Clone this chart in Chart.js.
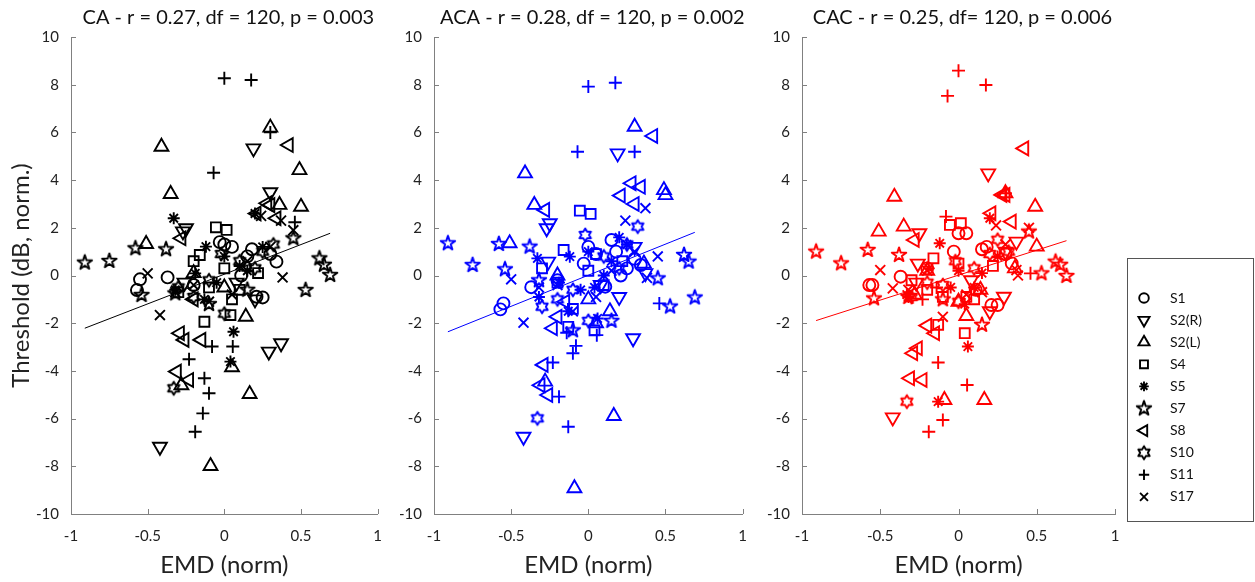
<!DOCTYPE html>
<html>
<head>
<meta charset="utf-8">
<script src="https://cdn.jsdelivr.net/npm/chart.js@4.4.1/dist/chart.umd.min.js"></script>
<style>
  body { margin: 0; background: #fff; }
  .panel { position: absolute; top: 0; }
</style>
</head>
<body>
<canvas id="ca" class="panel" width="395" height="582" style="left:0px"></canvas>
<canvas id="aca" class="panel" width="360" height="582" style="left:400px"></canvas>
<canvas id="cac" class="panel" width="490" height="582" style="left:765px"></canvas>
<script>
// EMD per subject is shared by the three conditions; thresholds differ
const subjects = ["S1", "S2(R)", "S2(L)", "S4", "S5", "S7", "S8", "S10", "S11", "S17"];

const emdS1 = [-0.55, -0.57, -0.37, 0.34, 0.21, 0.25, 0.0, 0.05, -0.03, 0.15, 0.11, -0.2, 0.18, 0.3];
const caS1 = [-0.16, -0.61, -0.08, 0.58, -0.89, -0.92, 1.3, 1.2, 1.4, 0.8, 0.0, -0.4, 1.1, 0.9];
const acaS1 = [-1.17, -1.42, -0.49, 0.44, 0.0, 0.3, 1.2, 0.9, 0.5, 1.49, -0.47, -0.2, 1.0, 0.7];
const cacS1 = [-0.4, -0.4, -0.05, 0.51, -1.24, -1.24, 1.77, 1.77, 1.0, 1.1, -0.6, 0.3, 1.2, 0.9];

const emdS2R = [0.19, 0.30, -0.25, -0.27, -0.26, 0.29, 0.37, -0.42, 0.08, 0.2];
const caS2R = [5.33, 3.49, 1.98, 1.85, -0.3, -3.19, -2.84, -7.18, -0.3, -1.0];
const acaS2R = [5.12, 1.2, 2.19, 1.98, 0.58, -2.63, 0.1, -6.76, -0.4, -0.9];
const cacS2R = [4.28, 1.0, 1.77, -0.3, 0.5, -0.89, 1.42, -5.95, -0.2, -1.5];

const emdS2L = [0.30, -0.41, 0.49, -0.35, 0.50, 0.36, -0.51, 0.14, 0.05, -0.28, 0.165, -0.09, -0.2, 0.0];
const caS2L = [6.2, 5.4, 4.42, 3.42, 2.88, 2.96, 1.32, -1.73, -3.85, -4.6, -4.97, -7.99, 0.1, -0.5];
const acaS2L = [6.24, 4.28, 3.58, 2.96, 3.37, 0.5, 1.35, -1.5, -2.0, -4.45, -5.89, -8.92, 0.0, -1.0];
const cacS2L = [3.45, 3.3, 2.88, 2.05, 1.21, 0.3, 1.84, -0.6, -1.7, -0.8, -5.22, -5.22, 0.2, -1.1];

const emdS4 = [-0.055, 0.015, -0.16, -0.13, 0.04, 0.0, 0.1, -0.1, 0.22, -0.3, 0.05, -0.2];
const caS4 = [2.02, 1.91, 0.86, -1.94, -1.66, 0.3, -0.6, -0.5, 0.1, -0.7, -1.0, 0.6];
const acaS4 = [2.72, 2.58, 1.07, -2.15, -2.3, 0.2, -0.4, -1.4, 0.6, 0.3, 0.9, -0.3];
const cacS4 = [2.12, 2.19, 0.72, -2.07, -2.42, 0.5, -1.0, -0.9, 0.4, -0.2, -0.9, -0.6];

const emdS5 = [-0.33, -0.19, -0.12, 0.06, 0.04, 0.0, 0.1, 0.25, 0.2, -0.32, -0.13, 0.15, -0.05];
const caS5 = [2.4, 0.09, 1.21, -2.36, -3.61, 0.8, 0.4, 1.2, 2.6, -0.6, -1.0, 0.2, -0.3];
const acaS5 = [0.72, -0.3, 0.79, -1.8, -0.5, 1.0, 0.0, 1.3, 1.6, -0.9, -1.5, 0.6, -0.6];
const cacS5 = [-0.8, 0.3, 1.35, -2.98, -1.2, 0.2, -0.5, 0.8, 2.4, -0.9, -5.29, 0.1, -0.5];

const emdS7 = [-0.91, -0.75, -0.58, -0.38, -0.54, -0.32, 0.45, 0.53, 0.62, 0.65, 0.69, -0.10, 0.15];
const caS7 = [0.54, 0.61, 1.14, 1.1, -0.82, -0.75, 1.56, -0.61, 0.72, 0.45, 0.02, -1.2, -0.6];
const acaS7 = [1.35, 0.44, 1.32, 1.21, 0.26, -0.2, -0.12, -1.3, 0.86, 0.58, -0.92, -2.3, -1.9];
const cacS7 = [1.0, 0.51, 1.07, 0.86, -0.96, -0.9, 1.84, 0.09, 0.58, 0.45, -0.02, -1.0, -2.07];

const emdS8 = [0.42, 0.28, 0.21, 0.30, 0.34, -0.28, -0.29, -0.26, -0.15, -0.31, -0.23, -0.2];
const caS8 = [5.47, 3.03, 2.6, 2.95, 2.4, 1.56, -2.42, -2.7, -2.7, -4.03, -4.38, -1.0];
const acaS8 = [5.85, 3.87, 3.35, 3.0, 3.72, 2.75, -3.75, -5.01, -1.1, -4.6, -2.21, -1.73];
const cacS8 = [5.33, 3.38, 2.61, 3.38, 2.26, 1.49, -3.26, -3.05, -2.42, -4.31, -4.38, -2.1];

const emdS10 = [-0.33, -0.02, 0.32, -0.3, 0.1, -0.1, 0.25, 0.0, 0.2, -0.2];
const caS10 = [-4.73, 0.9, 1.3, -0.5, 0.6, -0.2, 1.0, -1.6, 0.3, -0.9];
const acaS10 = [-5.99, 1.70, 2.05, -1.31, 0.8, -0.6, 1.3, -1.9, 0.3, -1.0];
const cacS10 = [-5.29, 0.6, 1.0, -0.9, 0.3, -0.4, 1.5, -1.1, 0.9, -0.3];

const emdS11 = [0.0, 0.175, -0.07, 0.30, 0.46, 0.055, -0.08, -0.23, -0.13, -0.10, -0.14, -0.19];
const caS11 = [8.27, 8.2, 4.31, 6.0, 2.23, -2.98, -2.98, -3.51, -4.31, -4.94, -5.78, -6.55];
const acaS11 = [7.92, 8.08, 5.19, 5.19, -1.17, -2.5, -2.95, -3.65, -6.34, -3.26, -2.4, -5.08];
const cacS11 = [8.59, 7.99, 7.53, 3.45, 0.09, -4.59, 2.47, -1.0, -3.65, -6.06, -0.5, -6.55];

const emdS17 = [-0.5, -0.42, -0.32, 0.37, 0.38, 0.24, 0.05, -0.1, 0.3, 0.45, 0.15, -0.2];
const caS17 = [0.09, -1.66, -0.7, 2.3, -0.08, 2.5, -0.8, -1.1, 1.2, 1.9, 0.6, -0.4];
const acaS17 = [-0.16, -1.98, -0.5, 2.82, -0.1, 2.3, -0.9, -1.5, 1.0, 0.8, 0.2, -0.4];
const cacS17 = [0.23, -0.54, -0.6, 0.23, 0.0, 2.1, -0.8, -1.73, 1.3, 2.0, -0.7, 0.2];

// regression line end points (EMD range of the data)
const fitEmd = [-0.91, 0.69];
const fitCA = [-2.21, 1.77];
const fitACA = [-2.36, 1.81];
const fitCAC = [-1.89, 1.46];

const titles = [
  "CA - r = 0.27, df = 120, p = 0.003",
  "ACA - r = 0.28, df = 120, p = 0.002",
  "CAC - r = 0.25, df= 120, p = 0.006",
];
const xTicks = [-1, -0.5, 0, 0.5, 1];

const emd = [emdS1, emdS2R, emdS2L, emdS4, emdS5, emdS7, emdS8, emdS10, emdS11, emdS17];
const thresholds = {
  ca: [caS1, caS2R, caS2L, caS4, caS5, caS7, caS8, caS10, caS11, caS17],
  aca: [acaS1, acaS2R, acaS2L, acaS4, acaS5, acaS7, acaS8, acaS10, acaS11, acaS17],
  cac: [cacS1, cacS2R, cacS2L, cacS4, cacS5, cacS7, cacS8, cacS10, cacS11, cacS17],
};

const FONT = "Lato, 'Open Sans', sans-serif";
const LW = 1.9;

// outlined pentagram / hexagram, drawn once per colour
function starMarker(points, inner, R, color) {
  const size = 20;
  const c = document.createElement("canvas");
  c.width = size;
  c.height = size;
  const g = c.getContext("2d");
  g.strokeStyle = color;
  g.lineWidth = LW;
  g.lineJoin = "round";
  g.beginPath();
  for (let i = 0; i < points * 2; i++) {
    const r = i % 2 ? R * inner : R;
    const a = -Math.PI / 2 + (i * Math.PI) / points;
    g.lineTo(size / 2 + r * Math.cos(a), size / 2 + r * Math.sin(a));
  }
  g.closePath();
  g.stroke();
  return c;
}

function markers(color) {
  return [
    { style: "circle", radius: 6, rotation: 0 },
    { style: "triangle", radius: 8, rotation: 180 },
    { style: "triangle", radius: 8, rotation: 0 },
    { style: "rect", radius: 7, rotation: 0 },
    { style: "star", radius: 6, rotation: 0 },
    { style: starMarker(5, 0.382, 7.6, color), radius: 8, rotation: 0 },
    { style: "triangle", radius: 8, rotation: 270 },
    { style: starMarker(6, 0.577, 6.6, color), radius: 8, rotation: 0 },
    { style: "cross", radius: 6.5, rotation: 0 },
    { style: "crossRot", radius: 7, rotation: 0 },
  ];
}

// panel title centred over the plot area
const panelTitle = {
  id: "panelTitle",
  afterDraw(chart, args, opts) {
    const { ctx, chartArea: a } = chart;
    ctx.save();
    ctx.font = "20px " + FONT;
    ctx.fillStyle = "#111";
    ctx.textAlign = "center";
    ctx.textBaseline = "middle";
    ctx.fillText(opts.text, (a.left + a.right) / 2 + 4, 18);
    ctx.restore();
  },
};

// ticks point into the plot, MATLAB style
const inwardTicks = {
  id: "inwardTicks",
  afterDraw(chart) {
    const { ctx, chartArea: a } = chart;
    const { x, y } = chart.scales;
    ctx.save();
    ctx.strokeStyle = "#808080";
    ctx.lineWidth = 1;
    ctx.beginPath();
    x.ticks.forEach((t) => {
      const px = Math.round(x.getPixelForValue(t.value)) + 0.5;
      ctx.moveTo(px, a.bottom);
      ctx.lineTo(px, a.bottom - 5);
    });
    y.ticks.forEach((t) => {
      const py = Math.round(y.getPixelForValue(t.value)) + 0.5;
      ctx.moveTo(a.left, py);
      ctx.lineTo(a.left + 5, py);
    });
    ctx.stroke();
    ctx.restore();
  },
};

// boxed legend to the right of the last panel
const subjectLegend = {
  id: "subjectLegend",
  afterDraw(chart) {
    const { ctx } = chart;
    const m = markers("#000");
    const left = 362, top = 258, w = 126, h = 263;
    ctx.save();
    ctx.strokeStyle = "#555";
    ctx.lineWidth = 1;
    ctx.strokeRect(left + 0.5, top + 0.5, w, h);
    ctx.font = "14px " + FONT;
    ctx.textBaseline = "middle";
    subjects.forEach((name, i) => {
      const y = 298 + i * 22.1;
      ctx.strokeStyle = "#000";
      ctx.fillStyle = "rgba(0,0,0,0)";
      ctx.lineWidth = LW;
      Chart.helpers.drawPoint(ctx, {
        pointStyle: m[i].style,
        rotation: m[i].rotation,
        radius: m[i].radius * 0.8,
        borderWidth: LW,
      }, 379, y);
      ctx.fillStyle = "#111";
      ctx.fillText(name, 405, y);
    });
    ctx.restore();
  },
};

function makePanel(id, idx, key, color, fitY, extra) {
  const m = markers(color);
  const datasets = subjects.map((name, i) => ({
    type: "scatter",
    label: name,
    data: emd[i].map((x, j) => ({ x: x, y: thresholds[key][i][j] })),
    pointStyle: m[i].style,
    pointRotation: m[i].rotation,
    pointRadius: m[i].radius,
    pointBorderWidth: LW,
    pointBorderColor: color,
    pointBackgroundColor: "rgba(0,0,0,0)",
  }));
  datasets.push({
    type: "line",
    label: "fit",
    data: fitEmd.map((x, j) => ({ x: x, y: fitY[j] })),
    borderColor: color,
    borderWidth: 1,
    pointRadius: 0,
  });

  return new Chart(document.getElementById(id), {
    data: { datasets: datasets },
    options: {
      responsive: false,
      animation: false,
      layout: { padding: { left: 0, right: extra.padRight, top: 37, bottom: 0 } },
      plugins: {
        legend: { display: false },
        tooltip: { enabled: false },
        panelTitle: { text: titles[idx] },
      },
      scales: {
        x: {
          type: "linear",
          min: -1,
          max: 1,
          afterBuildTicks: (s) => { s.ticks = xTicks.map((v) => ({ value: v })); },
          afterFit: (s) => { s.height = 68; },
          grid: { drawOnChartArea: false, drawTicks: false },
          border: { color: "#808080", width: 1 },
          ticks: {
            color: "#222",
            padding: 13,
            font: { family: FONT, size: 15 },
            callback: (v) => String(v),
          },
          title: {
            display: true,
            text: "EMD (norm)",
            color: "#222",
            font: { family: FONT, size: 24 },
            padding: { top: 0, bottom: 2 },
          },
        },
        y: {
          min: -10,
          max: 10,
          ticks: {
            stepSize: 2,
            color: "#222",
            padding: 12,
            font: { family: FONT, size: 15 },
          },
          afterFit: (s) => { s.width = extra.yWidth; },
          grid: { drawOnChartArea: false, drawTicks: false },
          border: { color: "#808080", width: 1 },
          title: {
            display: extra.yTitle,
            text: "Threshold (dB, norm.)",
            color: "#222",
            font: { family: FONT, size: 24 },
            padding: { top: 7, bottom: 0 },
          },
        },
      },
    },
    plugins: extra.legend ? [panelTitle, inwardTicks, subjectLegend] : [panelTitle, inwardTicks],
  });
}

makePanel("ca", 0, "ca", "#000000", fitCA, { padRight: 12, yWidth: 71, yTitle: true });
makePanel("aca", 1, "aca", "#0000ff", fitACA, { padRight: 13, yWidth: 34, yTitle: false });
makePanel("cac", 2, "cac", "#ff0000", fitCAC, { padRight: 140, yWidth: 37, yTitle: false, legend: true });
</script>
</body>
</html>
